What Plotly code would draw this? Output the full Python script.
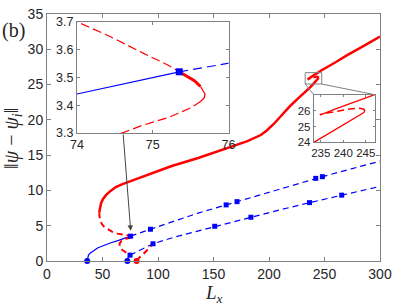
import plotly.graph_objects as go

# ---------------- data ----------------
# red branch: stable (solid) lower part from left fold to first fold of the Z
red_s1_x = [47.1, 47.6, 48.7, 50.5, 53.1, 57, 62, 68, 76.8, 91.7, 112.4, 136.2, 150, 165.9, 180,
            192.6, 198, 204.5, 212, 219.3, 226, 233.45, 237, 240, 242.5, 243.8, 244.5, 244.8]
red_s1_y = [6.9, 7.6, 8.2, 8.8, 9.33, 9.9, 10.47, 10.9, 11.4, 12.3, 13.46, 14.6, 15.35, 16.2, 16.95,
            17.85, 18.5, 19.45, 20.75, 22.0, 23.0, 24.0, 24.6, 25.1, 25.5, 25.72, 25.86, 25.97]
# red unstable middle part of the Z
red_u1_x = [244.8, 244.6, 244.0, 243.3, 241.5, 239, 237, 235.5, 234.8]
red_u1_y = [25.97, 26.07, 26.13, 26.15, 26.1, 26.0, 25.88, 25.78, 25.74]
# red stable upper part after the Z
red_s2_x = [234.8, 235.5, 238, 241, 244, 247, 260.4, 269.7, 285, 300]
red_s2_y = [25.74, 25.8, 26.08, 26.38, 26.68, 27.0, 28.2, 29.1, 30.45, 31.8]
# red unstable branch from left fold down to the upper blue square
red_u2_x = [47.1, 47.3, 48.2, 49.6, 51.5, 54.6, 58.5, 63.5, 68, 72.4, 74, 74.43, 74.86, 75.21, 75.35]
red_u2_y = [6.9, 6.3, 5.7, 5.2, 4.85, 4.5, 4.15, 3.88, 3.8, 3.74, 3.7, 3.648, 3.589, 3.543, 3.52]
# short stable piece beyond the square (thick) and around the small fold (thin)
red_f1_x = [75.35, 75.45, 75.55, 75.63]
red_f1_y = [3.52, 3.505, 3.488, 3.467]
red_f2_x = [75.63, 75.67, 75.69, 75.68, 75.64]
red_f2_y = [3.467, 3.452, 3.44, 3.427, 3.415]
# unstable branch from small fold down to the lower blue square
red_u3_x = [75.64, 75.5, 75.21, 74.86, 74.6, 72, 69.4, 67, 65.3, 65.6, 66.5, 68.5, 71, 73, 74.8]
red_u3_y = [3.415, 3.39, 3.356, 3.327, 3.3, 3.2, 3.1, 2.85, 2.45, 2.0, 1.75, 1.48, 1.25, 1.02, 0.83]
# unstable branch from the red dot to the lower blue square
red_u4_x = [80.7, 82.9, 87.3, 91.7, 95.5]
red_u4_y = [0, 0.42, 1.06, 1.75, 2.44]

# blue branches
blue_a_sol_x = [36.2, 36.5, 37.3, 38.8, 40.5, 42.7, 46, 51.6, 57, 63.2, 68, 72, 74, 75.35]
blue_a_sol_y = [0, 0.45, 0.8, 1.1, 1.32, 1.52, 1.88, 2.25, 2.55, 2.85, 3.13, 3.33, 3.44, 3.52]
blue_a_dsh_x = [75.35, 76, 84, 93.2, 110, 136.2, 161.4, 171.2, 200, 242.1, 248.1, 275, 300]
blue_a_dsh_y = [3.52, 3.558, 4.02, 4.5, 5.4, 6.79, 7.95, 8.41, 9.76, 11.71, 11.95, 13.1, 14.15]
blue_b_sol_x = [72.4, 72.5, 72.8, 73.3, 74.0, 74.8]
blue_b_sol_y = [0, 0.25, 0.45, 0.6, 0.73, 0.83]
blue_b_dsh_x = [74.8, 80, 85, 95.5, 115, 136.2, 151.1, 183.7, 210, 236.5, 265.5, 300]
blue_b_dsh_y = [0.83, 1.23, 1.62, 2.44, 3.4, 4.27, 4.92, 6.2, 7.25, 8.27, 9.33, 10.57]

sq_a_x = [75.35, 93.2, 161.4, 171.2, 242.1, 248.1]
sq_a_y = [3.52, 4.5, 7.95, 8.41, 11.71, 11.95]
sq_b_x = [74.8, 95.5, 151.1, 183.7, 236.5, 265.5]
sq_b_y = [0.83, 2.44, 4.92, 6.2, 8.27, 9.33]
dot_blue_x = [36.2, 72.4]
dot_blue_y = [0, 0]
dot_red_x = [80.7]
dot_red_y = [0]

# zoom rectangle in main axes
rect_x = [232.6, 247.5]
rect_y = [25.08, 26.69]

RED = "#ff0000"
BLUE = "#0000ff"
GRAY = "#808080"
TXT = "#262626"

fig = go.Figure()


def line(x, y, color, width, dash="solid", xa="x", ya="y"):
    fig.add_trace(go.Scatter(x=x, y=y, mode="lines", xaxis=xa, yaxis=ya,
                             line=dict(color=color, width=width, dash=dash),
                             hoverinfo="skip", showlegend=False))


def marks(x, y, color, symbol, size, xa="x", ya="y"):
    fig.add_trace(go.Scatter(x=x, y=y, mode="markers", xaxis=xa, yaxis=ya,
                             marker=dict(color=color, symbol=symbol, size=size, line=dict(width=0)),
                             cliponaxis=False, hoverinfo="skip", showlegend=False))


# ---- main axes ----
D_MAIN = "6px,4px"
line(blue_a_sol_x, blue_a_sol_y, BLUE, 1.2)
line(blue_a_dsh_x, blue_a_dsh_y, BLUE, 1.2, D_MAIN)
line(blue_b_sol_x, blue_b_sol_y, BLUE, 1.2)
line(blue_b_dsh_x, blue_b_dsh_y, BLUE, 1.2, D_MAIN)
line(red_s1_x, red_s1_y, RED, 2.5)
line(red_u1_x, red_u1_y, RED, 2, D_MAIN)
line(red_s2_x, red_s2_y, RED, 2.5)
line(red_u2_x, red_u2_y, RED, 2, D_MAIN)
line(red_f1_x, red_f1_y, RED, 2.5)
line(red_f2_x, red_f2_y, RED, 1.5)
line(red_u3_x, red_u3_y, RED, 2, D_MAIN)
line(red_u4_x, red_u4_y, RED, 2, D_MAIN)
marks(sq_a_x, sq_a_y, BLUE, "square", 5)
marks(sq_b_x, sq_b_y, BLUE, "square", 5)
marks(dot_blue_x, dot_blue_y, BLUE, "circle", 6)
marks(dot_red_x, dot_red_y, RED, "circle", 6)

# ---- inset 1 (zoom near L_x = 75) ----
D_IN = "9px,4px"
line(blue_a_sol_x, blue_a_sol_y, BLUE, 1.2, xa="x2", ya="y2")
line(blue_a_dsh_x, blue_a_dsh_y, BLUE, 1.2, "9px,5px", xa="x2", ya="y2")
line(red_u2_x, red_u2_y, RED, 1.2, D_IN, xa="x2", ya="y2")
line(red_f1_x, red_f1_y, RED, 3, xa="x2", ya="y2")
line(red_f2_x, red_f2_y, RED, 1.3, xa="x2", ya="y2")
line(red_u3_x, red_u3_y, RED, 1.2, D_IN, xa="x2", ya="y2")
marks(sq_a_x[:1], sq_a_y[:1], BLUE, "square", 7, xa="x2", ya="y2")

# ---- inset 2 (zoom on the Z near L_x = 240) ----
line(red_s1_x, red_s1_y, RED, 1.3, xa="x3", ya="y3")
line(red_u1_x, red_u1_y, RED, 1.5, "7px,4px", xa="x3", ya="y3")
line(red_s2_x, red_s2_y, RED, 1.3, xa="x3", ya="y3")

# ---- geometry ----
W, H = 399, 307
ML, MR, MT, MB = 47, 15, 7, 46
PW, PH = W - ML - MR, H - MT - MB


def px2paper(px, py):
    return (px - ML) / PW, (H - MB - py) / PH


i1x0, i1y0 = px2paper(77.3, 129.3)
i1x1, i1y1 = px2paper(230.7, 15)
i2x0, i2y0 = px2paper(317, 139)
i2x1, i2y1 = px2paper(378.7, 90)

tickfont = dict(family="Liberation Sans, Arial, sans-serif", size=14, color=TXT)
ax_common = dict(showline=True, linecolor=GRAY, linewidth=1, mirror="ticks", ticks="inside",
                 tickcolor=GRAY, showgrid=False, zeroline=False, fixedrange=True)

fig.update_layout(
    width=W, height=H, margin=dict(l=ML, r=MR, t=MT, b=MB),
    paper_bgcolor="white", plot_bgcolor="white", showlegend=False,
    xaxis=dict(domain=[0, 1], range=[0, 300], tickvals=[0, 50, 100, 150, 200, 250, 300],
               ticklen=4, tickfont=tickfont, **ax_common),
    yaxis=dict(domain=[0, 1], range=[0, 35], tickvals=[0, 5, 10, 15, 20, 25, 30, 35],
               ticklen=4, tickfont=tickfont, **ax_common),
    xaxis2=dict(domain=[i1x0, i1x1], anchor="y2", range=[74, 76], tickvals=[74, 75, 76],
                ticklen=3, tickfont=dict(tickfont, size=12.5), **ax_common),
    yaxis2=dict(domain=[i1y0, i1y1], anchor="x2", range=[3.3, 3.7],
                tickvals=[3.3, 3.4, 3.5, 3.6, 3.7], tickformat=".1f",
                ticklen=3, tickfont=dict(tickfont, size=12.5), **ax_common),
    xaxis3=dict(domain=[i2x0, i2x1], anchor="y3", range=[233.45, 247], tickvals=[235, 240, 245],
                ticklen=2, tickfont=dict(tickfont, size=11.5), **ax_common),
    yaxis3=dict(domain=[i2y0, i2y1], anchor="x3", range=[24, 27], tickvals=[24, 25, 26],
                ticklen=2, tickfont=dict(tickfont, size=11.5), **ax_common),
)

# zoom rectangle and its connectors to inset 2
rx0, rx1 = rect_x[0] / 300, rect_x[1] / 300
ry0, ry1 = rect_y[0] / 35, rect_y[1] / 35
fig.add_shape(type="rect", xref="paper", yref="paper", x0=rx0, x1=rx1, y0=ry0, y1=ry1,
              line=dict(color=GRAY, width=1))
fig.add_shape(type="line", xref="paper", yref="paper", x0=rx0, y0=ry0, x1=i2x0, y1=i2y1,
              line=dict(color=GRAY, width=1))
fig.add_shape(type="line", xref="paper", yref="paper", x0=rx1, y0=ry0, x1=i2x1, y1=i2y1,
              line=dict(color=GRAY, width=1))

# arrow from inset 1 to the bifurcation point (main axes domain == paper)
ax_px = px2paper(124, 129.3)
tip_px = px2paper(131.7, 230)
fig.add_annotation(xref="x domain", yref="y domain", axref="x domain", ayref="y domain",
                   x=tip_px[0], y=tip_px[1], ax=ax_px[0], ay=ax_px[1], text="",
                   showarrow=True, arrowhead=2, arrowsize=1.1, arrowwidth=1, arrowcolor="#444444")

serif = "Liberation Serif, Times New Roman, serif"
xt = px2paper(216, 295)
fig.add_annotation(xref="paper", yref="paper", x=xt[0], y=xt[1], showarrow=False,
                   xanchor="center", yanchor="middle",
                   text="<i>L</i><sub><i>x</i></sub>", font=dict(family=serif, size=19, color=TXT))
yt = px2paper(12, 135)
fig.add_annotation(xref="paper", yref="paper", x=yt[0], y=yt[1], showarrow=False, textangle=-90,
                   xanchor="center", yanchor="middle",
                   text="‖<i>ψ</i> − <i>ψ</i><sub><i>i</i></sub>‖",
                   font=dict(family=serif, size=20, color=TXT))
bt = px2paper(13, 24)
fig.add_annotation(xref="paper", yref="paper", x=bt[0], y=bt[1], showarrow=False,
                   xanchor="center", yanchor="middle",
                   text="(b)", font=dict(family=serif, size=20, color=TXT))

fig.write_html("out.html", config={"displayModeBar": False},
               post_script="document.body.style.margin='0';document.body.style.padding='0';")
